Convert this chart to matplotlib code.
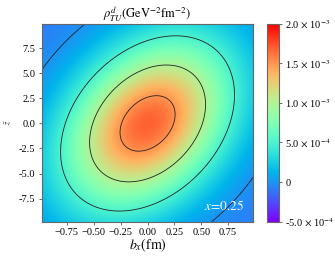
import numpy as np
import matplotlib
matplotlib.use('Agg')
import matplotlib.pyplot as plt

plt.rcParams['font.family'] = 'Liberation Serif'
plt.rcParams['mathtext.fontset'] = 'stix'

# tilted gaussian-like density with a small negative offset
x_range = [-0.985, 0.985]
z_range = [-9.8, 9.95]
peak = 1.79e-3
offset = -0.106e-3
width = 0.52
# quadratic form in (x, z/10)
qa, qb, qc = 1.0, -0.3, 0.856
levels = [0.0, 5e-4, 1e-3, 1.5e-3]
cbar_ticks = [-5e-4, 0, 5e-4, 1e-3, 1.5e-3, 2e-3]
cbar_labels = ['-5.0 $\\times$ 10$^{-4}$', '0', '5.0 $\\times$ 10$^{-4}$',
               '1.0 $\\times$ 10$^{-3}$', '1.5 $\\times$ 10$^{-3}$', '2.0 $\\times$ 10$^{-3}$']
xticks = [-0.75, -0.5, -0.25, 0.0, 0.25, 0.5, 0.75]
yticks = [-7.5, -5.0, -2.5, 0.0, 2.5, 5.0, 7.5]
ylabels = ['-7.5', '-5.0', '-2.5', '0.0', '2.5', '5.0', '7.5']

xs = np.linspace(x_range[0], x_range[1], 300)
zs = np.linspace(z_range[0], z_range[1], 300)
X, Z = np.meshgrid(xs, zs)
Zp = Z / 10.0
q = qa * X**2 + 2 * qb * X * Zp + qc * Zp**2
rho = peak * np.exp(-q / (2 * width**2)) + offset

fig = plt.figure(figsize=(3.35, 2.58), dpi=100)
ax = fig.add_axes([0.1245, 0.141, 0.632, 0.767])
cax = fig.add_axes([0.797, 0.141, 0.036, 0.767])

mesh = ax.pcolormesh(X, Z, rho, cmap='rainbow', vmin=-5e-4, vmax=2e-3,
                     shading='gouraud', rasterized=True)
ax.contour(X, Z, rho, levels=levels, colors='#222222', linewidths=0.6)
ax.set_xlim(x_range)
ax.set_ylim(z_range)

ax.set_xticks(xticks)
ax.set_yticks(yticks)
ax.set_yticklabels(ylabels)
ax.tick_params(labelsize=7.5, length=2.5, width=0.6, color='#555555', pad=2)
for s in ax.spines.values():
    s.set_color('#666666')
    s.set_linewidth(0.8)

ax.set_title(r'$\rho^{d}_{TU}(\mathrm{GeV}^{-2}\mathrm{fm}^{-2})$', fontsize=9, pad=3)
ax.set_xlabel(r'$b_x(\mathrm{fm})$', fontsize=10, labelpad=0)
ax.set_ylabel(r'$\tilde{z}$', fontsize=6, labelpad=4)
ax.text(0.955, 0.045, r'$x\!=\!0.25$', transform=ax.transAxes, color='white',
        fontsize=9.5, ha='right', va='bottom')

cb = fig.colorbar(mesh, cax=cax, ticks=cbar_ticks)
cb.ax.set_yticklabels(cbar_labels)
cb.ax.tick_params(labelsize=7.5, length=2.5, width=0.6, color='#555555', pad=2)
cb.outline.set_edgecolor('#666666')
cb.outline.set_linewidth(0.8)

fig.savefig('out.png', dpi=100)
